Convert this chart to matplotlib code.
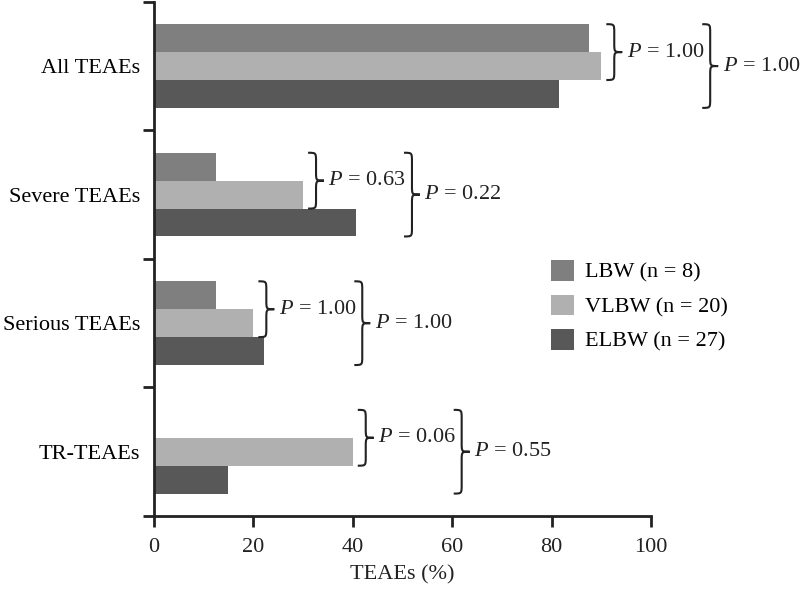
import matplotlib
matplotlib.use("Agg")
import matplotlib.pyplot as plt
from matplotlib.path import Path
from matplotlib.patches import PathPatch
import numpy as np

plt.rcParams['font.family'] = ['Liberation Serif', 'DejaVu Serif']
plt.rcParams['mathtext.fontset'] = 'custom'
plt.rcParams['mathtext.rm'] = 'Liberation Serif'
plt.rcParams['mathtext.it'] = 'Liberation Serif:italic'

categories = ['All TEAEs', 'Severe TEAEs', 'Serious TEAEs', 'TR-TEAEs']
groups = ['LBW (n = 8)', 'VLBW (n = 20)', 'ELBW (n = 27)']
lbw = [87.5, 12.5, 12.5, 0]
vlbw = [90.0, 30.0, 20.0, 40.0]
elbw = [81.5, 40.7, 22.2, 14.8]
p_inner = ['1.00', '0.63', '1.00', '0.06']   # LBW vs VLBW
p_outer = ['1.00', '0.22', '1.00', '0.55']   # LBW vs ELBW
colors = ['#7f7f7f', '#b0b0b0', '#585858']


def brace(ax, x0, ya, yb, w=3.2, r=0.07):
    # right-pointing curly brace "}" from ya to yb
    ym = (ya + yb) / 2
    xm = x0 + w / 2
    xt = x0 + w
    verts = [(x0, ya), (xm, ya), (xm, ya), (xm, ya + r),
             (xm, ym - r),
             (xm, ym), (xm, ym), (xt, ym),
             (xm, ym), (xm, ym), (xm, ym + r),
             (xm, yb - r),
             (xm, yb), (xm, yb), (x0, yb)]
    codes = [Path.MOVETO, Path.CURVE4, Path.CURVE4, Path.CURVE4,
             Path.LINETO,
             Path.CURVE4, Path.CURVE4, Path.CURVE4,
             Path.CURVE4, Path.CURVE4, Path.CURVE4,
             Path.LINETO,
             Path.CURVE4, Path.CURVE4, Path.CURVE4]
    ax.add_patch(PathPatch(Path(verts, codes), fill=False, lw=1.5,
                           color='#222222', clip_on=False))
    return xt, ym


fig = plt.figure(figsize=(8, 5.9), dpi=100)
ax = fig.add_axes([0.1925, 0.1254, 0.6213, 0.8716])

h = 0.217
y = np.arange(len(categories))
series = [lbw, vlbw, elbw]
for k, (vals, c, lab) in enumerate(zip(series, colors, groups)):
    ax.barh(y + (k - 1) * h, vals, height=h, color=c, label=lab,
            edgecolor='none')

for i in range(len(categories)):
    ya = i - 1.5 * h
    x_in = max(lbw[i], vlbw[i]) + 1.0
    xt, ym = brace(ax, x_in, ya, i + 0.5 * h)
    ax.text(xt + 0.9, ym, r'$P$ = ' + p_inner[i], fontsize=16,
            va='center', ha='left', color='#222222')
    x_out = x_in + 19.3
    xt, ym = brace(ax, x_out, ya, i + 1.5 * h)
    ax.text(xt + 0.9, ym, r'$P$ = ' + p_outer[i], fontsize=16,
            va='center', ha='left', color='#222222')

ax.set_xlim(0, 100)
ax.set_ylim(3.5, -0.5)
ax.set_xticks([0, 20, 40, 60, 80, 100])
ax.set_yticks([-0.5, 0.5, 1.5, 2.5, 3.5])
ax.set_yticklabels([])
ax.set_yticks(y, minor=True)
ax.set_yticklabels(categories, minor=True)
ax.tick_params(axis='y', which='minor', length=0, pad=10, labelsize=16)
ax.tick_params(axis='both', which='major', length=8, width=2,
               direction='out', labelsize=16, colors='#222222')
ax.tick_params(axis='x', pad=8)
for s in ['top', 'right']:
    ax.spines[s].set_visible(False)
for s in ['left', 'bottom']:
    ax.spines[s].set_linewidth(2)
    ax.spines[s].set_color('#222222')
ax.set_xlabel('TEAEs (%)', fontsize=16, labelpad=6, color='#222222')

ax.legend(loc='upper left', bbox_to_anchor=(0.78, 0.515), frameon=False,
          fontsize=16, handlelength=1.05, handleheight=1.05,
          labelspacing=0.52, handletextpad=0.5, borderaxespad=0)

fig.savefig('out.png', dpi=100)
